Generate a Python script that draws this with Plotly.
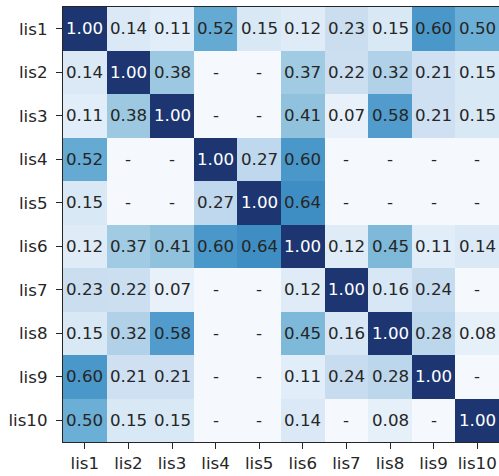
import plotly.graph_objects as go

# Pairwise overlap scores between the ten lists (None = no overlap)
labels = ["lis1", "lis2", "lis3", "lis4", "lis5", "lis6", "lis7", "lis8", "lis9", "lis10"]
row_lis1 = [1.00, 0.14, 0.11, 0.52, 0.15, 0.12, 0.23, 0.15, 0.60, 0.50]
row_lis2 = [0.14, 1.00, 0.38, None, None, 0.37, 0.22, 0.32, 0.21, 0.15]
row_lis3 = [0.11, 0.38, 1.00, None, None, 0.41, 0.07, 0.58, 0.21, 0.15]
row_lis4 = [0.52, None, None, 1.00, 0.27, 0.60, None, None, None, None]
row_lis5 = [0.15, None, None, 0.27, 1.00, 0.64, None, None, None, None]
row_lis6 = [0.12, 0.37, 0.41, 0.60, 0.64, 1.00, 0.12, 0.45, 0.11, 0.14]
row_lis7 = [0.23, 0.22, 0.07, None, None, 0.12, 1.00, 0.16, 0.24, None]
row_lis8 = [0.15, 0.32, 0.58, None, None, 0.45, 0.16, 1.00, 0.28, 0.08]
row_lis9 = [0.60, 0.21, 0.21, None, None, 0.11, 0.24, 0.28, 1.00, None]
row_lis10 = [0.50, 0.15, 0.15, None, None, 0.14, None, 0.08, None, 1.00]

rows = [row_lis1, row_lis2, row_lis3, row_lis4, row_lis5,
        row_lis6, row_lis7, row_lis8, row_lis9, row_lis10]

# Missing pairs are coloured as zero and labelled with a dash
z = [[0.0 if v is None else v for v in r] for r in rows]

blues = ["#f5f9fd", "#deebf7", "#c6dbef", "#9ecae1", "#6baed6",
         "#4292c6", "#2171b5", "#0e4f96", "#1d3671"]
colorscale = [[i / (len(blues) - 1), c] for i, c in enumerate(blues)]

FONT = "DejaVu Sans"
FS = 16.67
INK = "#262626"

fig = go.Figure(go.Heatmap(
    z=z, x=labels, y=labels,
    colorscale=colorscale, zmin=0, zmax=1,
    showscale=False, hoverinfo="skip",
))

annotations = []
for i, r in enumerate(rows):
    for j, v in enumerate(r):
        txt = "-" if v is None else f"{v:.2f}"
        col = "white" if (v is not None and v >= 0.8) else INK
        annotations.append(dict(
            x=labels[j], y=labels[i], text=txt, showarrow=False,
            font=dict(family=FONT, size=FS, color=col),
        ))

fig.update_layout(
    width=499, height=476,
    margin=dict(l=63, r=0, t=7, b=34),
    paper_bgcolor="white", plot_bgcolor="white",
    font=dict(family=FONT, size=FS, color=INK),
    annotations=annotations,
    xaxis=dict(
        showline=True, mirror=True, linecolor=INK, linewidth=1.3,
        ticks="outside", ticklen=6, tickwidth=1.2, tickcolor=INK,
        showgrid=False, zeroline=False,
        tickfont=dict(family=FONT, size=FS, color=INK),
    ),
    yaxis=dict(
        autorange="reversed",
        showline=True, mirror=False, linecolor=INK, linewidth=1.3,
        ticks="outside", ticklen=6, tickwidth=1.2, tickcolor=INK,
        ticklabelstandoff=5,
        showgrid=False, zeroline=False,
        tickfont=dict(family=FONT, size=FS, color=INK),
    ),
)

fig.write_html("out.html")
